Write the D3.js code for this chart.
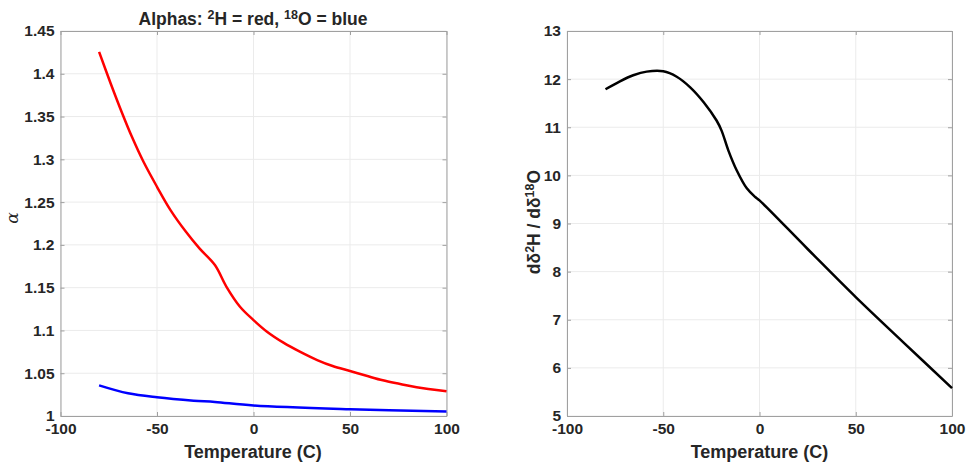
<!DOCTYPE html>
<html>
<head>
<meta charset="utf-8">
<script src="https://cdn.jsdelivr.net/npm/d3@7"></script>
<style>
  body { margin: 0; background: #fff; }
  text { font-family: "Liberation Sans", Arial, sans-serif; font-weight: bold; fill: #262626; }
</style>
</head>
<body>
<div id="chart"></div>
<script>
// Temperatures (C)
var tempH = [-80, -74, -68, -63, -57, -50, -43, -35, -28, -20, -14, -7, 0, 7, 15.5, 24, 33, 41, 50, 59, 67, 76, 84.5, 100];
// alpha 2H (red)
var alphaH = [1.4256, 1.3887, 1.3536, 1.3263, 1.2971, 1.2679, 1.2407, 1.2153, 1.1959, 1.1764, 1.151, 1.1277, 1.1121, 1.0985, 1.0857, 1.0752, 1.0654, 1.0584, 1.0526, 1.0467, 1.0417, 1.0374, 1.0335, 1.0288];

var tempO = [-80, -65, -50, -31, -20, 0, 50, 100];
// alpha 18O (blue)
var alphaO = [1.0358, 1.0265, 1.0218, 1.0179, 1.0164, 1.0122, 1.0078, 1.0052];

// slope d(d2H)/d(d18O)
var tempS = [-80, -72.5, -65.6, -58.6, -50, -43, -36, -29, -22.3, -19.7, -16.2, -11.8, -6.6, -2.2, 0, 25, 50, 75, 100];
var slope = [11.79, 11.955, 12.08, 12.156, 12.163, 12.05, 11.83, 11.52, 11.14, 10.93, 10.52, 10.10, 9.73, 9.55, 9.48, 8.47, 7.47, 6.52, 5.58];

var xTicks = [-100, -50, 0, 50, 100];
var yTicksLeft = [1, 1.05, 1.1, 1.15, 1.2, 1.25, 1.3, 1.35, 1.4, 1.45];
var yTicksRight = [5, 6, 7, 8, 9, 10, 11, 12, 13];

var svg = d3.select("#chart").append("svg")
    .attr("width", 967)
    .attr("height", 466);

var plotTop = 31, plotBottom = 416;

function drawPanel(left, right, yDomain, yTicks) {
    var x = d3.scaleLinear().domain([-100, 100]).range([left, right]);
    var y = d3.scaleLinear().domain(yDomain).range([plotBottom, plotTop]);
    var g = svg.append("g");

    // grid
    g.selectAll(".gx").data(xTicks).enter().append("line")
        .attr("x1", d => x(d)).attr("x2", d => x(d))
        .attr("y1", plotTop).attr("y2", plotBottom)
        .attr("stroke", "#ebebeb").attr("stroke-width", 1);
    g.selectAll(".gy").data(yTicks).enter().append("line")
        .attr("x1", left).attr("x2", right)
        .attr("y1", d => y(d)).attr("y2", d => y(d))
        .attr("stroke", "#ebebeb").attr("stroke-width", 1);

    // axes (ticks pointing inward, box on)
    g.append("g").attr("transform", `translate(0, ${plotBottom})`)
        .call(d3.axisBottom(x).tickValues(xTicks).tickSizeInner(-4).tickSizeOuter(0).tickPadding(7).tickFormat(d => String(d)));
    g.append("g").attr("transform", `translate(0, ${plotTop})`)
        .call(d3.axisTop(x).tickValues(xTicks).tickSizeInner(-4).tickSizeOuter(0).tickFormat(""));
    g.append("g").attr("transform", `translate(${left}, 0)`)
        .call(d3.axisLeft(y).tickValues(yTicks).tickSizeInner(-4).tickSizeOuter(0).tickPadding(6).tickFormat(d => String(d)));
    g.append("g").attr("transform", `translate(${right}, 0)`)
        .call(d3.axisRight(y).tickValues(yTicks).tickSizeInner(-4).tickSizeOuter(0).tickFormat(""));

    g.selectAll(".domain").attr("stroke", "#a0a0a0");
    g.selectAll(".tick line").attr("stroke", "#a0a0a0");
    g.selectAll(".tick text").style("font-size", "15.5px").attr("fill", "#262626");

    return {x: x, y: y, g: g};
}

// Left panel
var p1 = drawPanel(60.5, 446.5, [1, 1.45], yTicksLeft);

var curve = d3.curveCatmullRom.alpha(0.5);
var lineH = d3.line().x((d, i) => p1.x(tempH[i])).y(d => p1.y(d)).curve(curve);
var lineO = d3.line().x((d, i) => p1.x(tempO[i])).y(d => p1.y(d)).curve(curve);

p1.g.append("path").attr("d", lineH(alphaH))
    .attr("fill", "none").attr("stroke", "#ff0000").attr("stroke-width", 2.5);
p1.g.append("path").attr("d", lineO(alphaO))
    .attr("fill", "none").attr("stroke", "#0000ff").attr("stroke-width", 2.5);

var title = svg.append("text")
    .attr("x", 253).attr("y", 25)
    .attr("text-anchor", "middle")
    .style("font-size", "17.5px");
title.append("tspan").text("Alphas: ");
title.append("tspan").attr("dy", -6).style("font-size", "12.5px").text("2");
title.append("tspan").attr("dy", 6).text("H = red, ");
title.append("tspan").attr("dy", -6).style("font-size", "12.5px").text("18");
title.append("tspan").attr("dy", 6).text("O = blue");

svg.append("text")
    .attr("x", 253).attr("y", 458)
    .attr("text-anchor", "middle")
    .style("font-size", "18px")
    .text("Temperature (C)");

svg.append("text")
    .attr("transform", "translate(18, 218) rotate(-90)")
    .attr("text-anchor", "middle")
    .style("font-family", "'DejaVu Serif', serif")
    .style("font-weight", "normal")
    .style("font-style", "italic")
    .style("font-size", "17px")
    .text("α");

// Right panel
var p2 = drawPanel(567, 952, [5, 13], yTicksRight);

var lineS = d3.line().x((d, i) => p2.x(tempS[i])).y(d => p2.y(d)).curve(curve);
p2.g.append("path").attr("d", lineS(slope))
    .attr("fill", "none").attr("stroke", "#000000").attr("stroke-width", 2.5);

svg.append("text")
    .attr("x", 759.5).attr("y", 458)
    .attr("text-anchor", "middle")
    .style("font-size", "18px")
    .text("Temperature (C)");

var ylab = svg.append("text")
    .attr("transform", "translate(540, 222) rotate(-90)")
    .attr("text-anchor", "middle")
    .style("font-size", "17.5px");
ylab.append("tspan").text("dδ");
ylab.append("tspan").attr("dy", -6).style("font-size", "12.5px").text("2");
ylab.append("tspan").attr("dy", 6).text("H / dδ");
ylab.append("tspan").attr("dy", -6).style("font-size", "12.5px").text("18");
ylab.append("tspan").attr("dy", 6).text("O");
</script>
</body>
</html>
